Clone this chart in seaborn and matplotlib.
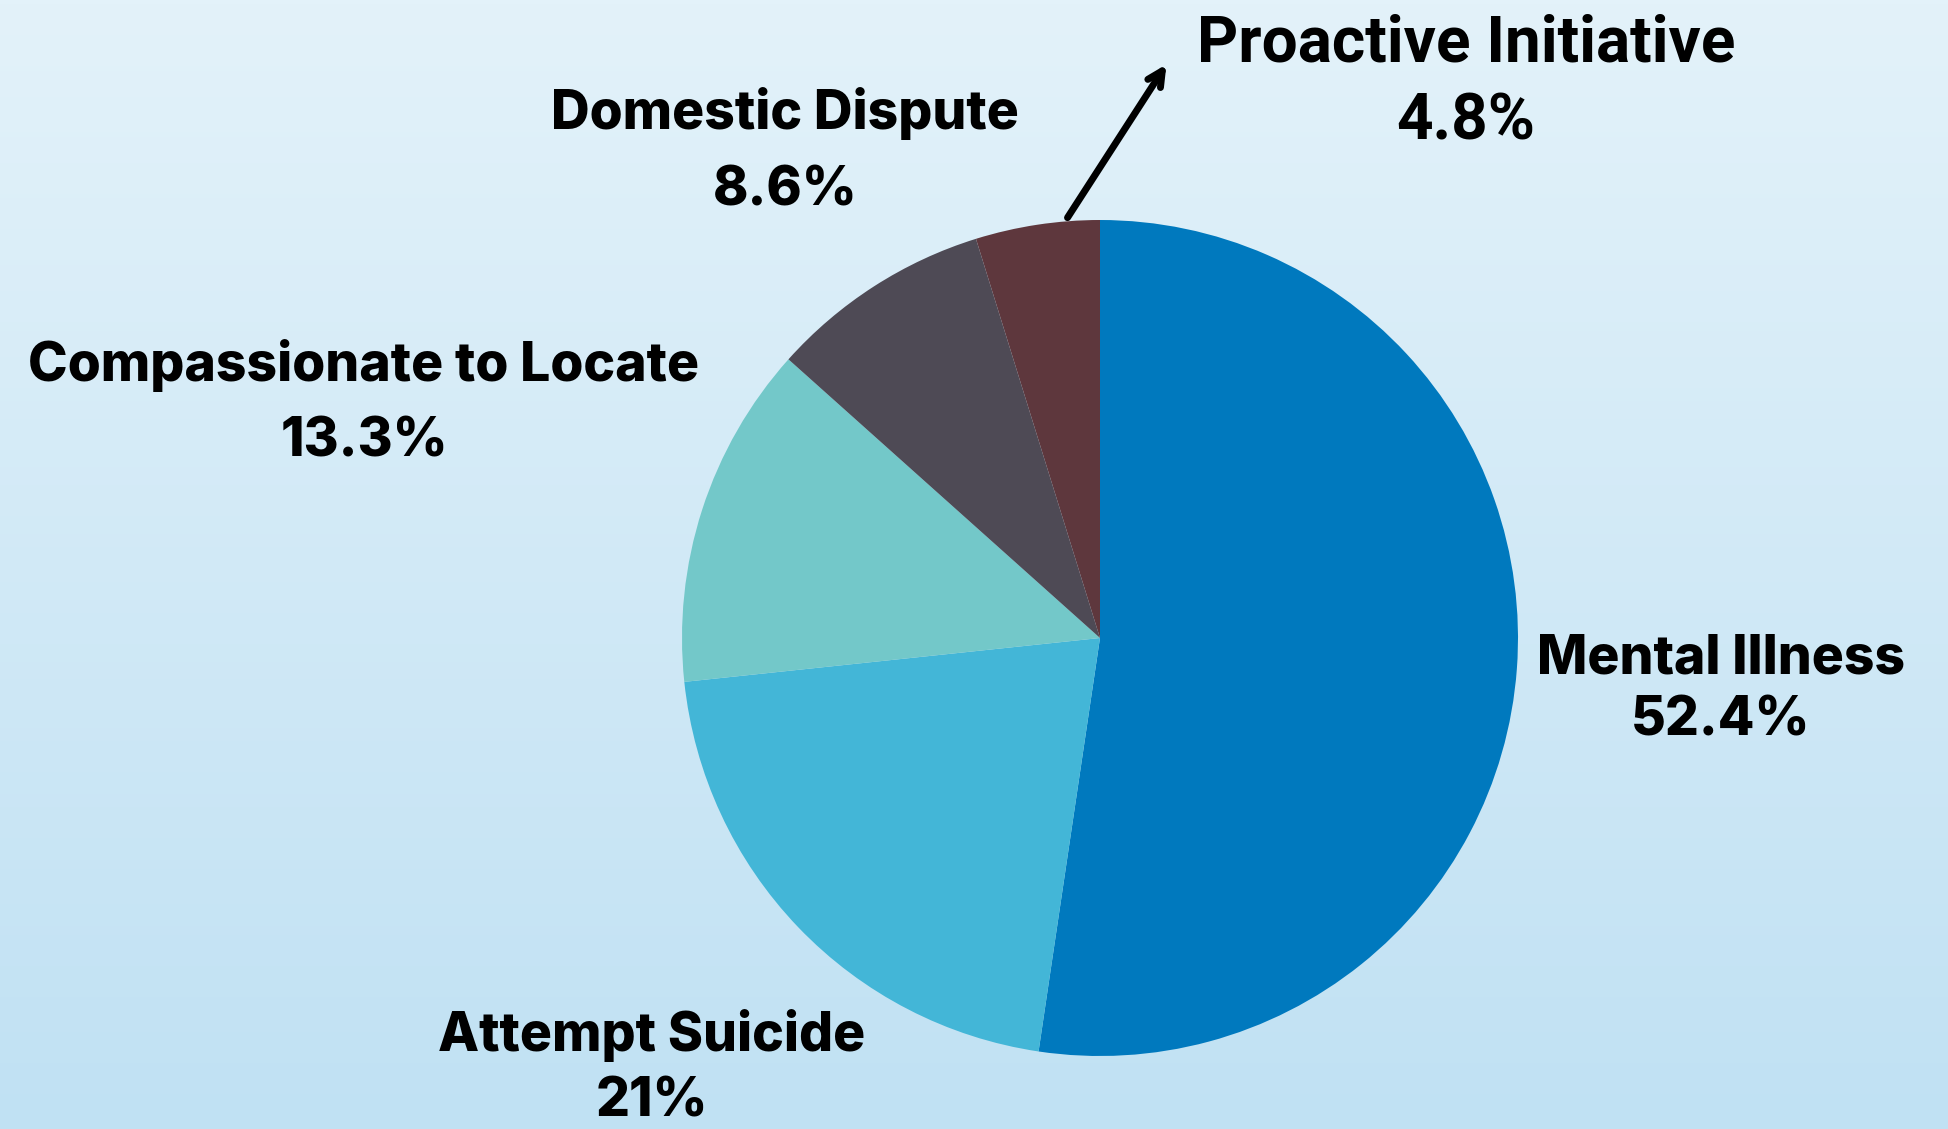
import numpy as np
import matplotlib
matplotlib.use("Agg")
import matplotlib.pyplot as plt
import seaborn as sns

categories = ["Mental Illness", "Attempt Suicide", "Compassionate to Locate",
              "Domestic Dispute", "Proactive Initiative"]
shares = [52.4, 21.0, 13.3, 8.6, 4.8]
share_labels = ["52.4%", "21%", "13.3%", "8.6%", "4.8%"]
colors = ["#0079be", "#43b6d7", "#73c8c9", "#4e4a55", "#5e373d"]

sns.set_theme(style="white")
plt.rcParams["font.family"] = ["Inter", "DejaVu Sans"]

W, H = 1948, 1129
fig = plt.figure(figsize=(W / 100, H / 100), dpi=100)

# soft vertical gradient background
bg = fig.add_axes([0, 0, 1, 1])
grad = np.linspace(0, 1, 256).reshape(-1, 1)
top = np.array([0xe3, 0xf2, 0xfa]) / 255
bot = np.array([0xc0, 0xe1, 0xf3]) / 255
img = top[None, None, :] * (1 - grad[:, :, None]) + bot[None, None, :] * grad[:, :, None]
bg.imshow(img, aspect="auto", extent=[0, 1, 0, 1], origin="upper")
bg.set_axis_off()

# pie axes placed by pixel centre and radius
cx, cy, r = 1100, 638, 418
ax = fig.add_axes([(cx - r) / W, (H - cy - r) / H, 2 * r / W, 2 * r / H])
ax.pie(shares, colors=colors, startangle=90, counterclock=False, radius=1,
       wedgeprops=dict(linewidth=0))
ax.set_xlim(-1, 1)
ax.set_ylim(-1, 1)
ax.set_axis_off()


def px(x, y):
    return x / W, 1 - y / H


label_pos = {
    "Mental Illness": ((1721, 659), (1721, 721)),
    "Attempt Suicide": ((652, 1035), (652, 1102)),
    "Compassionate to Locate": ((364, 366), (364, 442)),
    "Domestic Dispute": ((785, 114), (785, 191)),
}
for name, lab in zip(categories, share_labels):
    if name in label_pos:
        (x1, y1), (x2, y2) = label_pos[name]
        fig.text(*px(x1, y1), name, ha="center", va="center",
                 fontsize=38.5, fontweight=800, color="black")
        fig.text(*px(x2, y2), lab, ha="center", va="center",
                 fontsize=38.5, fontweight=800, color="black")

# callout for the smallest slice
fig.text(*px(1466, 44), categories[4], ha="center", va="center",
         fontsize=46, fontweight="bold", color="black", family=["Roboto", "DejaVu Sans"])
fig.text(*px(1466, 122), share_labels[4], ha="center", va="center",
         fontsize=46, fontweight="bold", color="black", family=["Roboto", "DejaVu Sans"])
bg.annotate("", xy=px(1168, 62), xytext=px(1066, 220),
            xycoords="axes fraction", textcoords="axes fraction",
            arrowprops=dict(arrowstyle="->,head_length=0.9,head_width=0.45",
                            lw=5, color="black"))

fig.savefig("out.png", dpi=100)
